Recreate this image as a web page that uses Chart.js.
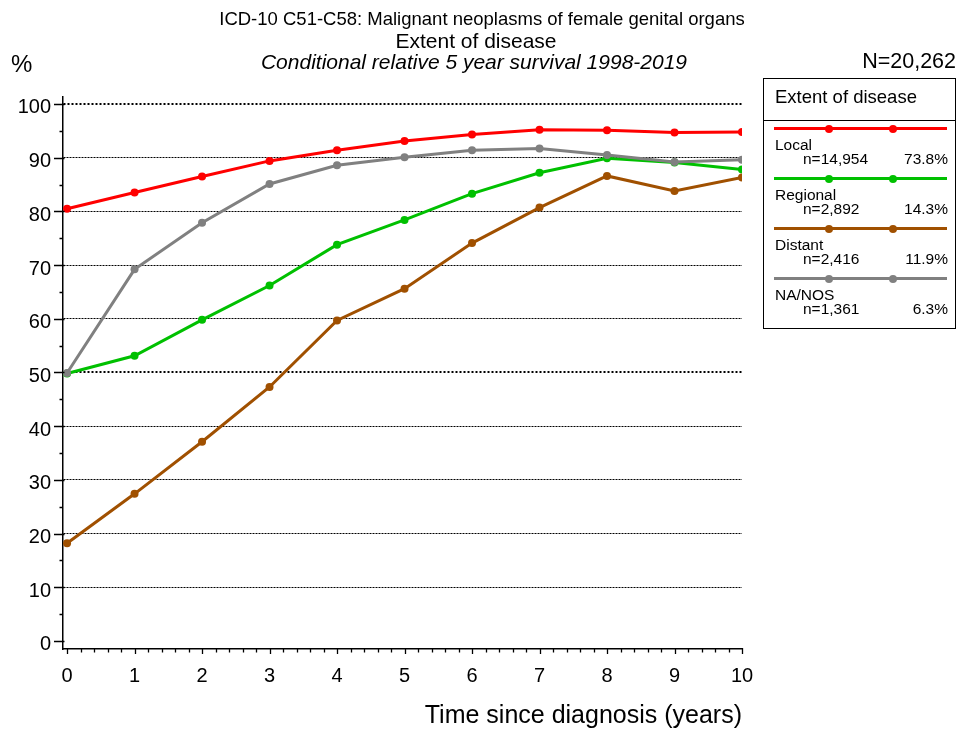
<!DOCTYPE html>
<html><head><meta charset="utf-8">
<script src="https://cdn.jsdelivr.net/npm/chart.js@4.4.1/dist/chart.umd.min.js"></script>
<style>
html,body{margin:0;padding:0;background:#fff;}
#wrap{position:relative;width:957px;height:733px;font-family:"Liberation Sans",Arial,sans-serif;color:#000;overflow:hidden;}
#c{position:absolute;left:0;top:0;}
.t{position:absolute;white-space:nowrap;line-height:1;}
#legend{position:absolute;left:763px;top:78px;width:193px;height:251px;border:1px solid #000;box-sizing:border-box;}
</style></head><body>
<div id="wrap">
<canvas id="c" width="957" height="733"></canvas>
<div class="t" style="left:482px;top:10px;font-size:18.5px;transform:translateX(-50%);">ICD-10 C51-C58: Malignant neoplasms of female genital organs</div>
<div class="t" style="left:476px;top:30px;font-size:21px;transform:translateX(-50%);">Extent of disease</div>
<div class="t" style="left:474px;top:51px;font-size:21px;font-style:italic;transform:translateX(-50%);">Conditional relative 5 year survival 1998-2019</div>
<div class="t" style="left:11px;top:52px;font-size:24px;">%</div>
<div class="t" style="right:1px;top:51px;font-size:21.5px;">N=20,262</div>
<div id="legend"></div>
</div>
<script>
// ---- data ----
const years = [0, 1, 2, 3, 4, 5, 6, 7, 8, 9, 10];
const yTickValues = [0, 10, 20, 30, 40, 50, 60, 70, 80, 90, 100];
const seriesNames = ['Local', 'Regional', 'Distant', 'NA/NOS'];
const seriesCounts = ['n=14,954', 'n=2,892', 'n=2,416', 'n=1,361'];
const seriesShares = ['73.8%', '14.3%', '11.9%', '6.3%'];
const local    = [80.5, 83.5, 86.5, 89.4, 91.4, 93.1, 94.3, 95.2, 95.1, 94.7, 94.8];
const regional = [49.8, 53.1, 59.8, 66.2, 73.8, 78.4, 83.3, 87.2, 89.9, 89.1, 87.8];
const distant  = [18.2, 27.4, 37.1, 47.3, 59.7, 65.6, 74.1, 80.7, 86.6, 83.8, 86.3];
const nanos    = [49.9, 69.2, 77.9, 85.1, 88.6, 90.1, 91.4, 91.7, 90.5, 89.2, 89.6];
const seriesValues = [local, regional, distant, nanos];
const seriesColors = ['#ff0000', '#00c000', '#a05000', '#808080'];

const FONT = '"Liberation Sans", Arial, sans-serif';

const datasets = seriesNames.map((name, i) => ({
  label: name,
  data: years.map((x, j) => ({x: x, y: seriesValues[i][j]})),
  borderColor: seriesColors[i],
  backgroundColor: seriesColors[i],
  pointBackgroundColor: seriesColors[i],
  pointBorderWidth: 0,
  pointRadius: 4,
  borderWidth: 3,
  tension: 0,
  fill: false,
  order: seriesNames.length - i
}));

const axisTicks = {
  id: 'axisTicks',
  afterDraw(chart) {
    const {ctx, chartArea, scales: {x, y}} = chart;
    ctx.save();
    ctx.strokeStyle = '#000';
    ctx.lineWidth = 1.3;
    ctx.beginPath();
    const b = chartArea.bottom;
    for (let i = 0; i <= 50; i++) {
      const px = Math.round(x.getPixelForValue(i / 5)) + 0.5;
      if (i % 5 === 0) { ctx.moveTo(px, b - 1); ctx.lineTo(px, b + 5); }
      else { ctx.moveTo(px, b); ctx.lineTo(px, b + 3.5); }
    }
    const l = chartArea.left;
    for (let i = 0; i <= 20; i++) {
      const py = Math.round(y.getPixelForValue(i * 5)) + 0.5;
      if (i % 2 === 0) { ctx.moveTo(l - 9, py); ctx.lineTo(l + 1.5, py); }
      else { ctx.moveTo(l - 3.5, py); ctx.lineTo(l, py); }
    }
    ctx.stroke();
    ctx.restore();
  }
};

new Chart(document.getElementById('c'), {
  type: 'line',
  data: {datasets},
  plugins: [axisTicks],
  options: {
    responsive: false,
    animation: false,
    layout: {padding: {left: 0, right: 215, top: 97, bottom: 0}},
    plugins: {legend: {display: false}, tooltip: {enabled: false}, title: {display: false}},
    scales: {
      x: {
        type: 'linear', min: -0.06, max: 10,
        afterFit(s) { s.height = 84; },
        afterBuildTicks(s) { s.ticks = years.map(v => ({value: v})); },
        ticks: {font: {size: 20, family: FONT}, color: '#000', padding: 15, autoSkip: false, maxRotation: 0},
        grid: {display: true, drawOnChartArea: false, drawTicks: false},
        border: {display: true, color: '#000', width: 1.5},
        title: {display: true, text: 'Time since diagnosis (years)', align: 'end',
                font: {size: 25, family: FONT}, color: '#000', padding: {top: 0, bottom: 2}}
      },
      y: {
        type: 'linear', min: -1.5, max: 101.3,
        afterFit(s) { s.width = 63; },
        afterBuildTicks(s) { s.ticks = yTickValues.map(v => ({value: v})); },
        ticks: {font: {size: 20, family: FONT}, color: '#000', padding: 12, labelOffset: 4},
        grid: {
          drawTicks: false,
          color: c => (c.tick && c.tick.value === 0) ? 'rgba(0,0,0,0)' : '#000',
          lineWidth: c => (c.tick && (c.tick.value === 50 || c.tick.value === 100)) ? 2 : 1
        },
        border: {display: true, color: '#000', width: 1.5,
                 dash: c => (c.tick && (c.tick.value === 50 || c.tick.value === 100)) ? [2, 2] : [2, 1]}
      }
    }
  }
});

// ---- legend (HTML, built from the arrays) ----
const lg = document.getElementById('legend');
let html = '<div class="t" style="left:11px;top:9px;font-size:18.5px;">Extent of disease</div>' +
  '<div style="position:absolute;left:0;right:0;top:41px;height:1px;background:#000;"></div>';
seriesNames.forEach((n, i) => {
  const ly = 49.5 + 50 * i;
  const c = seriesColors[i];
  html += `<div style="position:absolute;left:10px;width:173px;top:${ly - 1.5}px;height:3px;background:${c};"></div>`;
  [65, 129].forEach(dx => {
    html += `<div style="position:absolute;left:${dx - 4}px;top:${ly - 4}px;width:8px;height:8px;border-radius:50%;background:${c};"></div>`;
  });
  html += `<div class="t" style="left:11px;top:${ly + 8}px;font-size:15.5px;">${n}</div>`;
  html += `<div class="t" style="left:39px;top:${ly + 22}px;font-size:15.5px;">${seriesCounts[i]}</div>`;
  html += `<div class="t" style="right:7px;top:${ly + 22}px;font-size:15.5px;">${seriesShares[i]}</div>`;
});
lg.innerHTML = html;
</script>
</body></html>
